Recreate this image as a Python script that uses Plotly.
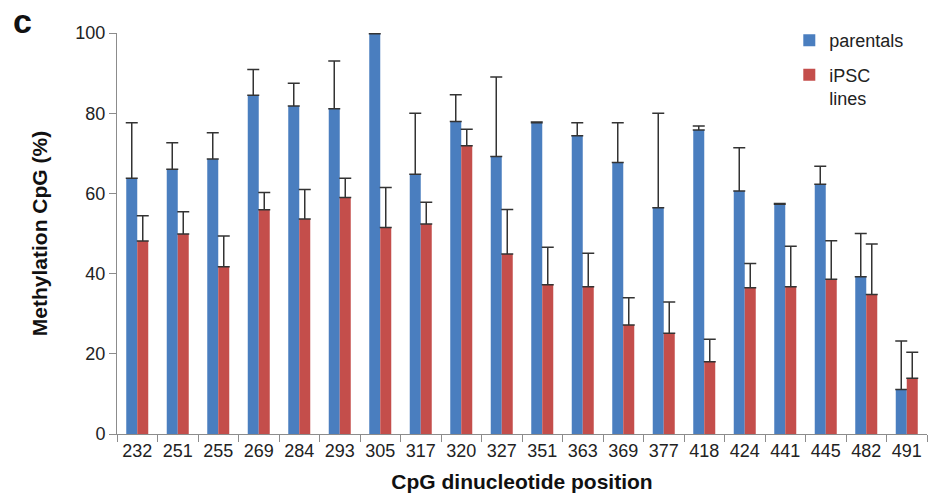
import plotly.graph_objects as go

# CpG dinucleotide positions (categorical x axis)
positions = ["232", "251", "255", "269", "284", "293", "305", "317", "320", "327",
             "351", "363", "369", "377", "418", "424", "441", "445", "482", "491"]

# Mean methylation (%) and upper error (SD) per group
parentals = [63.8, 66.0, 68.6, 84.5, 81.8, 81.1, 99.8, 64.8, 77.9, 69.2,
             77.6, 74.4, 67.7, 56.4, 75.8, 60.6, 57.3, 62.3, 39.2, 11.1]
parentals_err = [13.8, 6.6, 6.5, 6.4, 5.7, 11.9, 0.2, 15.2, 6.7, 19.8,
                 0.2, 3.2, 9.9, 23.6, 1.0, 10.8, 0.2, 4.5, 10.8, 12.1]

ipsc = [48.1, 49.9, 41.7, 55.9, 53.6, 59.0, 51.5, 52.4, 71.9, 44.9,
        37.2, 36.7, 27.2, 25.1, 18.0, 36.5, 36.7, 38.6, 34.8, 13.9]
ipsc_err = [6.3, 5.5, 7.7, 4.3, 7.4, 4.8, 10.0, 5.4, 4.1, 11.1,
            9.4, 8.4, 6.8, 7.8, 5.6, 6.0, 10.1, 9.6, 12.6, 6.5]

zeros = [0] * len(positions)

FONT = "Liberation Sans, Arial, sans-serif"
TXT = "#222222"
AXIS = "#8c8c8c"

fig = go.Figure()

fig.add_trace(go.Bar(
    x=positions, y=parentals, name="parentals", legendgroup="parentals",
    marker=dict(color="#4a7ebf", line=dict(width=0)),
    error_y=dict(type="data", symmetric=False, array=parentals_err,
                 arrayminus=zeros, color="#333333", thickness=1.5, width=6),
))
fig.add_trace(go.Bar(
    x=positions, y=ipsc, name="iPSC<br>lines", legendgroup="ipsc",
    marker=dict(color="#c44e4b", line=dict(width=0)),
    error_y=dict(type="data", symmetric=False, array=ipsc_err,
                 arrayminus=zeros, color="#333333", thickness=1.5, width=6),
))

fig.update_layout(
    width=933, height=497,
    margin=dict(l=117, r=6, t=33, b=63),
    paper_bgcolor="white", plot_bgcolor="white",
    barmode="group", bargap=0.457, bargroupgap=0,
    font=dict(family=FONT, size=18, color=TXT),
    showlegend=True,
    legend=dict(
        x=0.83, y=1.027, xanchor="left", yanchor="top",
        bgcolor="rgba(0,0,0,0)", borderwidth=0,
        font=dict(family=FONT, size=18, color=TXT),
        valign="top", tracegroupgap=8,
    ),
    xaxis=dict(
        type="category",
        showline=True, linecolor=AXIS, linewidth=1,
        ticks="outside", tickson="boundaries", ticklen=7, tickcolor=AXIS,
        showgrid=False, zeroline=False,
        tickfont=dict(family=FONT, size=18, color=TXT),
        title=dict(text="<b>CpG dinucleotide position</b>",
                   font=dict(family=FONT, size=21, color="#111111"),
                   standoff=14),
    ),
    yaxis=dict(
        range=[0, 100], tickvals=[0, 20, 40, 60, 80, 100],
        showline=True, linecolor=AXIS, linewidth=1,
        ticks="outside", ticklen=7, tickcolor=AXIS,
        showgrid=False, zeroline=False,
        tickfont=dict(family=FONT, size=18, color=TXT),
        title=dict(text="<b>Methylation CpG (%)</b>",
                   font=dict(family=FONT, size=21, color="#111111"),
                   standoff=22),
    ),
    annotations=[dict(
        text="<b>c</b>", xref="paper", yref="paper",
        x=-0.131, y=1.03, xanchor="left", yanchor="middle",
        showarrow=False, font=dict(family=FONT, size=34, color="#111111"),
    )],
)

fig.write_html("out.html")
